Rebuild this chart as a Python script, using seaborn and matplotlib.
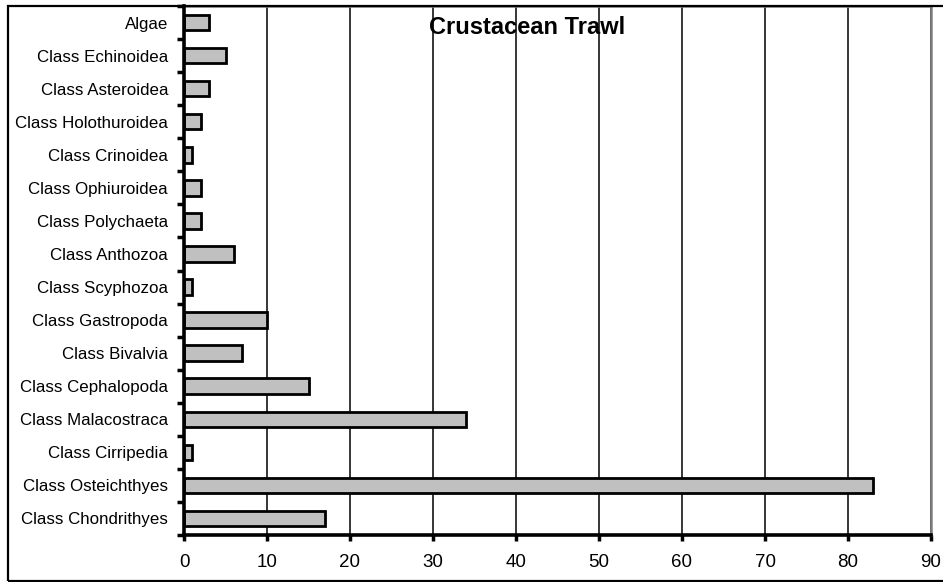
import matplotlib
matplotlib.use("Agg")
import matplotlib.pyplot as plt
from matplotlib.patches import Rectangle
from matplotlib.ticker import FixedLocator, MultipleLocator
import seaborn as sns
import pandas as pd

taxa = [
    "Algae", "Class Echinoidea", "Class Asteroidea", "Class Holothuroidea",
    "Class Crinoidea", "Class Ophiuroidea", "Class Polychaeta", "Class Anthozoa",
    "Class Scyphozoa", "Class Gastropoda", "Class Bivalvia", "Class Cephalopoda",
    "Class Malacostraca", "Class Cirripedia", "Class Osteichthyes", "Class Chondrithyes",
]
counts = [3, 5, 3, 2, 1, 2, 2, 6, 1, 10, 7, 15, 34, 1, 83, 17]

df = pd.DataFrame({"taxon": taxa, "count": counts})

sns.set_theme(style="white")
plt.rcParams["font.family"] = ["Liberation Sans", "DejaVu Sans"]

fig = plt.figure(figsize=(9.43, 5.82), dpi=100)
W, H = 943, 582
ax = fig.add_axes([184 / W, 1 - 535 / H, (931 - 184) / W, (535 - 6) / H])

# outer chart frame
fig.patches.append(Rectangle((8 / W, 1 / H), 1.2, 1 - 7 / H, transform=fig.transFigure,
                             fill=False, edgecolor="black", linewidth=1.6, zorder=0))

sns.barplot(data=df, x="count", y="taxon", orient="h", color="#c0c0c0",
            edgecolor="black", linewidth=2.0, width=0.47, saturation=1, ax=ax, zorder=3)

ax.set_xlim(0, 90)
ax.set_ylim(len(taxa) - 0.5, -0.5)
ax.xaxis.set_major_locator(MultipleLocator(10))
ax.grid(axis="x", color="black", linewidth=1.1, zorder=0)
ax.set_axisbelow(True)
ax.set_xlabel("")
ax.set_ylabel("")

for side in ("top", "right"):
    ax.spines[side].set_color("#808080")
    ax.spines[side].set_linewidth(1.8)
for side in ("left", "bottom"):
    ax.spines[side].set_color("black")
    ax.spines[side].set_linewidth(2.6)
    ax.spines[side].set_zorder(5)

# y ticks sit between categories
ax.yaxis.set_minor_locator(FixedLocator([i - 0.5 for i in range(len(taxa) + 1)]))
ax.tick_params(axis="y", which="major", length=0, pad=11.5, labelsize=12.2, labelcolor="black")
ax.tick_params(axis="y", which="minor", left=True, length=5, width=2.5, color="black", direction="out")
ax.tick_params(axis="x", which="major", bottom=True, length=4, width=2.5, color="black",
               direction="out", pad=9.5, labelsize=13.5, labelcolor="black")

fig.text(527 / W, 1 - 28 / H, "Crustacean Trawl", ha="center", va="center",
         fontsize=17, fontweight="bold", color="black")

fig.savefig("out.png", dpi=100)
